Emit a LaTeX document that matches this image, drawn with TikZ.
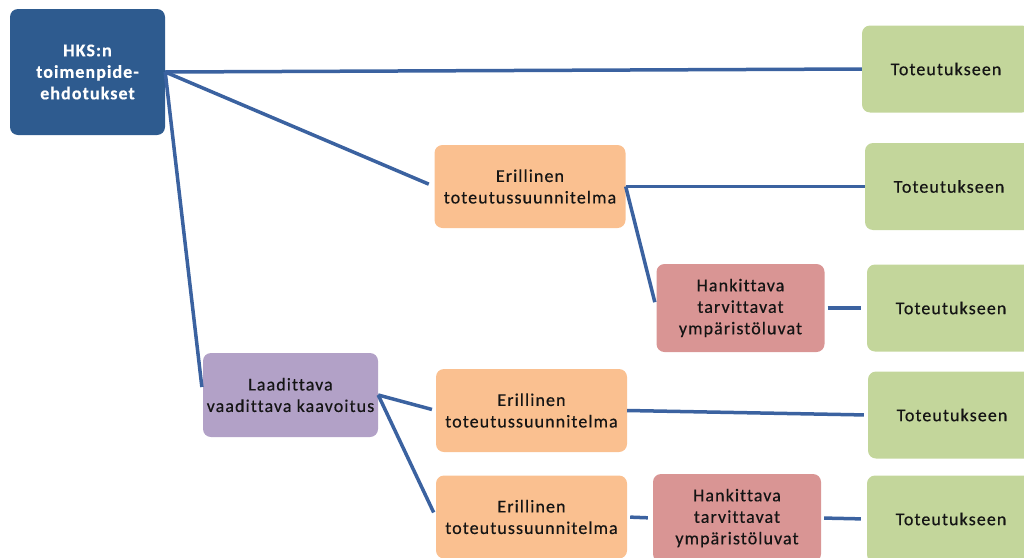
\documentclass[tikz,border=0pt]{standalone}
\usepackage{fontspec}
\setmainfont{Carlito}[LetterSpace=6,Ligatures=NoCommon,FakeBold=0.4]
\definecolor{rootblue}{RGB}{46,91,143}
\definecolor{linkblue}{RGB}{59,98,160}
\definecolor{donegreen}{RGB}{195,214,155}
\definecolor{planorange}{RGB}{250,192,144}
\definecolor{permitred}{RGB}{217,149,148}
\definecolor{zonepurple}{RGB}{178,161,199}
\definecolor{boxtext}{RGB}{20,20,20}
\tikzset{
  box/.style={rectangle, rounded corners=8pt, align=center, text=boxtext,
    font=\fontsize{18}{21.5}\selectfont, inner sep=0pt},
  rootbox/.style={box, fill=rootblue, text=white, font=\bfseries\fontsize{18}{21.5}\selectfont,
    minimum width=155pt, minimum height=126pt},
  donebox/.style={box, fill=donegreen, minimum width=168pt, minimum height=87pt},
  planbox/.style={box, fill=planorange, minimum width=191pt, minimum height=83pt},
  permitbox/.style={box, fill=permitred, minimum width=168pt, minimum height=88pt},
  zonebox/.style={box, fill=zonepurple, minimum width=175pt, minimum height=84pt},
  link/.style={draw=linkblue, line width=3.5pt}
}

\begin{document}
\begin{tikzpicture}[x=1pt,y=-1pt]
  \useasboundingbox (0,0) rectangle (1024,557);
  % boxes
  \node[rootbox] (root) at (87.5,72) {HKS:n\\toimenpide-\\ehdotukset};
  \node[donebox] (done1) at (946,69) {Toteutukseen};
  \node[planbox] (plan1) at (530,186.5) {Erillinen\\toteutussuunnitelma};
  \node[donebox] (done2) at (949,186.5) {Toteutukseen};
  \node[permitbox] (permit1) at (740.5,308) {Hankittava\\tarvittavat\\ympäristöluvat};
  \node[donebox] (done3) at (951,308) {Toteutukseen};
  \node[zonebox] (zone) at (290.5,395) {Laadittava\\vaadittava kaavoitus};
  \node[planbox] (plan2) at (531.5,410.5) {Erillinen\\toteutussuunnitelma};
  \node[donebox] (done4) at (952,415) {Toteutukseen};
  \node[planbox] (plan3) at (531.5,517) {Erillinen\\toteutussuunnitelma};
  \node[permitbox] (permit2) at (737,518) {Hankittava\\tarvittavat\\ympäristöluvat};
  \node[donebox] (done5) at (951,519) {Toteutukseen};
  % links
  \draw[link] (root.east) -- (done1.west);
  \draw[link,shorten >=6pt] (root.east) -- (plan1.west);
  \draw[link,shorten >=8pt] (root.east) -- (zone.west);
  \draw[link] (plan1.east) -- (done2.west);
  \draw[link,shorten >=6pt] (plan1.east) -- (permit1.west);
  \draw[link,shorten <=3pt,shorten >=6pt] (permit1.east) -- (done3.west);
  \draw[link,shorten >=4pt] (zone.east) -- (plan2.west);
  \draw[link,shorten >=5pt] (zone.east) -- (plan3.west);
  \draw[link,shorten >=4pt] (plan2.east) -- (done4.west);
  \draw[link,shorten <=3pt,shorten >=5pt] (plan3.east) -- (permit2.west);
  \draw[link,shorten <=3pt,shorten >=6pt] (permit2.east) -- (done5.west);
\end{tikzpicture}
\end{document}
